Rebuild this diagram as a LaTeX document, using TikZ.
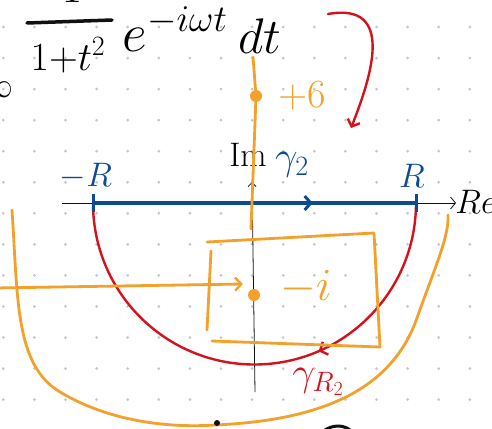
\RequirePackage{fix-cm}
\documentclass[tikz,border=0pt]{standalone}
\usepackage{amsmath,amssymb}
\usepackage{xcolor}
\usepackage{tikz}
\usetikzlibrary{arrows.meta,positioning,decorations.markings}
\definecolor{Ink}{HTML}{111111}
\definecolor{Blue}{HTML}{0D4A94}
\definecolor{Red}{HTML}{D2121C}
\definecolor{Orange}{HTML}{F4A12C}
\definecolor{DGray}{HTML}{C6C6C6}
\newcommand{\fsz}[1]{\fontsize{#1}{#1}\selectfont}

\begin{document}
\begin{tikzpicture}[x=1pt,y=-1pt,
    axis/.style={draw=Ink,line width=0.8pt},
    seg/.style={draw=Blue,line width=3.6pt},
    arcl/.style={draw=Red,line width=2.4pt,line cap=round},
    pen/.style={draw=Orange,line width=2.8pt,line cap=round,line join=round},
    pole/.style={circle,fill=Orange,inner sep=0pt,minimum size=12pt},
    lbl/.style={inner sep=0pt},
    barb/.style={-{Straight Barb[length=6pt,width=13pt,line width=2.4pt]}},
    >=Stealth]
  \useasboundingbox (0,0) rectangle (492,428);
  \fill[white] (0,0) rectangle (492,428);
  \foreach \i in {0,...,15}
    \foreach \j in {0,...,12}
      \fill[DGray] (3.3+31.1*\i,27+31.05*\j) circle (1.5pt);

  \coordinate (O) at (255,203);
  \coordinate (xL) at (62,203);
  \coordinate (xR) at (456,203);
  \coordinate (yB) at (255,392);
  \coordinate (yT) at (252,182);
  \coordinate (mR) at (93,203);
  \coordinate (pR) at (416,203);

  \draw[axis,-{Straight Barb[length=5pt,width=12pt]}] (xL) -- (xR);
  \draw[axis,-{Straight Barb[length=4pt,width=8pt]}] (yB) -- (yT);

  \draw[arcl,postaction={decorate},decoration={markings,
      mark=at position 0.37 with {\arrow{Straight Barb[length=6pt,width=14pt,line width=2.4pt]}}}]
    (pR) arc[start angle=0,end angle=180,radius=161.5];
  \draw[seg,postaction={decorate},decoration={markings,
      mark=at position 0.68 with {\arrow{Straight Barb[length=6pt,width=14pt,line width=3pt]}}}]
    (mR) -- (pR);
  \draw[Blue,line width=3pt] ([yshift=-9pt]mR) -- ([yshift=9pt]mR);
  \draw[Blue,line width=3pt] ([yshift=-9pt]pR) -- ([yshift=9pt]pR);
  \node[lbl,text=Blue,font=\fsz{34}] (lmR) at (86,176) {$-R$};
  \node[lbl,text=Blue,font=\fsz{34}] (lpR) at (412,176) {$R$};
  \node[lbl,text=Blue,font=\fsz{40}] (g2) at (292,165) {$\gamma_2$};
  \node[lbl,text=Red,font=\fsz{40}] (gR) at (318,382) {$\gamma_{R_2}$};
  \node[lbl,font=\fsz{34}] (Re) at (476,202) {$Re$};
  \node[lbl,font=\fsz{34}] (Im) at (248,155) {Im};

  \node[lbl,font=\fsz{44}] (num) at (72,-12) {$1$};
  \node[lbl,font=\fsz{40}] (den) at (68,55) {$1{+}t^2$};
  \draw[Ink,line width=3.5pt,line cap=round] (27,23) -- (112,20);
  \node[lbl,font=\fsz{54}] (ex) at (175,29) {$e^{-i\omega t}$};
  \node[lbl,font=\fsz{50}] (dt) at (260,36) {$dt$};
  \node[lbl,font=\fsz{36}] (lim) at (-4,90) {$\infty$};

  \node[pole] (P6) at (256,96) {};
  \node[lbl,text=Orange,font=\fsz{40},right=16pt of P6] (l6) {$+6$};
  \node[pole] (Pi) at (254,295) {};
  \node[lbl,text=Orange,font=\fsz{46},right=20pt of Pi,yshift=8pt] (li) {$-i$};
  \coordinate (tA) at (253,57);
  \coordinate (tB) at (251,229);
  \draw[pen] (tA) -- (P6) -- (tB);
  \coordinate (hA) at (-5,288);
  \draw[pen,barb] (hA) -- ([xshift=-5pt,yshift=11pt]Pi.west);
  \draw[pen] (211,251) -- (207,330);
  \draw[pen] (207,242) -- (374,233) -- (380,347) -- (212,341);
  \draw[pen] (12,210) .. controls (18,300) and (15,365) .. (60,392)
    .. controls (110,422) and (170,428) .. (215,425)
    .. controls (330,420) and (395,385) .. (418,315)
    .. controls (438,260) and (449,235) .. (448,215);

  \draw[arcl,barb] (328,14) .. controls (395,2) and (372,75) .. (351,128);
  \fill[Ink] (217,423) circle (3pt);
  \draw[Ink,line width=3pt] (322,432) .. controls (332,424) and (345,424) .. (352,432);
\end{tikzpicture}
\end{document}
